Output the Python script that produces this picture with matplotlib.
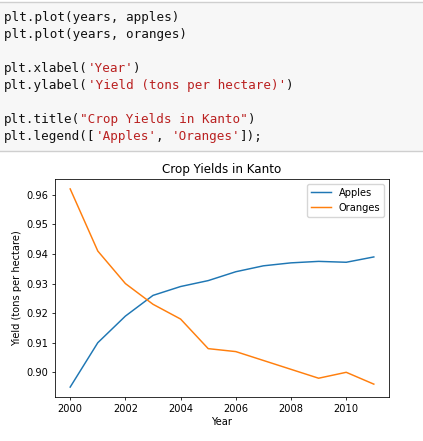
import matplotlib

matplotlib.use("Agg")
import matplotlib.pyplot as plt
from matplotlib.patches import Rectangle

years = [2000, 2001, 2002, 2003, 2004, 2005, 2006, 2007, 2008, 2009, 2010, 2011]
apples = [0.895, 0.910, 0.919, 0.926, 0.929, 0.931, 0.934, 0.936, 0.937, 0.9375, 0.9372, 0.939]
oranges = [0.962, 0.941, 0.930, 0.923, 0.918, 0.908, 0.907, 0.904, 0.901, 0.898, 0.900, 0.896]
series_labels = ["Apples", "Oranges"]

# code cell lines, split into (text, is_string) pieces
code_lines = [
    [("plt.plot(years, apples)", False)],
    [("plt.plot(years, oranges)", False)],
    [],
    [("plt.xlabel(", False), ("'Year'", True), (")", False)],
    [("plt.ylabel(", False), ("'Yield (tons per hectare)'", True), (")", False)],
    [],
    [("plt.title(", False), ('"Crop Yields in Kanto"', True), (")", False)],
    [("plt.legend([", False), ("'Apples'", True), (", ", False), ("'Oranges'", True), ("]);", False)],
]

W, H = 423, 441
SCALE = 0.71  # output image looks scaled down from a default notebook figure

fig = plt.figure(figsize=(W / 100, H / 100), dpi=100)

# code cell background and borders
fig.patches.append(Rectangle((0, 1 - 151 / H), 1, 149 / H, transform=fig.transFigure,
                             facecolor="#f7f7f7", edgecolor="none", zorder=0))
for yy in (2, 151):
    fig.add_artist(plt.Line2D([0, 1], [1 - yy / H, 1 - yy / H], transform=fig.transFigure,
                              color="#cfcfcf", linewidth=1.0))

code_size = 9.1
char_w = code_size * 100 / 72 * 0.602
line_h = 17.0
y0 = 17.5
for i, parts in enumerate(code_lines):
    col = 0
    for text, is_str in parts:
        fig.text((4 + col * char_w) / W, 1 - (y0 + i * line_h) / H, text,
                 family="DejaVu Sans Mono", fontsize=code_size,
                 color="#ba2121" if is_str else "#111111", va="center", ha="left")
        col += len(text)

ax = fig.add_axes([55 / W, 44 / H, 334 / W, 218 / H])
ax.plot(years, apples, linewidth=1.5 * SCALE)
ax.plot(years, oranges, linewidth=1.5 * SCALE)

fs = 10 * SCALE
ax.set_xlabel("Year", fontsize=fs, labelpad=3.5 * SCALE)
ax.set_ylabel("Yield (tons per hectare)", fontsize=fs, labelpad=4 * SCALE)
ax.set_title("Crop Yields in Kanto", fontsize=12 * SCALE, pad=6 * SCALE)
ax.legend(series_labels, fontsize=fs, frameon=True)

ax.tick_params(labelsize=fs, width=0.8 * SCALE, length=3.5 * SCALE, pad=3.5 * SCALE)
for sp in ax.spines.values():
    sp.set_linewidth(0.8 * SCALE)

fig.savefig("out.png", dpi=100)
